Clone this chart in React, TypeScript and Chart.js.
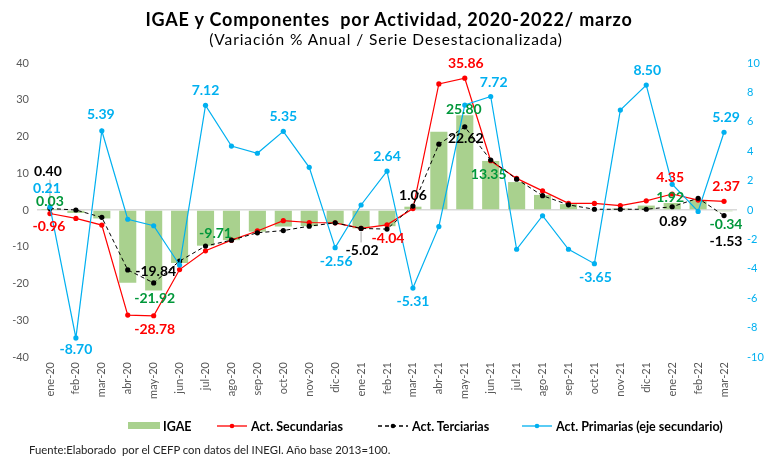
import React, { useEffect, useRef } from 'react';
import { Chart, registerables } from 'chart.js';

Chart.register(...registerables);

const categories = [
  'ene-20', 'feb-20', 'mar-20', 'abr-20', 'may-20', 'jun-20', 'jul-20', 'ago-20', 'sep-20',
  'oct-20', 'nov-20', 'dic-20', 'ene-21', 'feb-21', 'mar-21', 'abr-21', 'may-21', 'jun-21',
  'jul-21', 'ago-21', 'sep-21', 'oct-21', 'nov-21', 'dic-21', 'ene-22', 'feb-22', 'mar-22',
];

const igae = [
  0.03, -0.8, -2.3, -19.8, -21.92, -14.4, -9.71, -8.2, -5.9,
  -4.5, -4.4, -3.8, -5.0, -4.4, 0.9, 21.3, 25.8, 13.35,
  7.6, 4.1, 1.6, 0.2, 0.4, 1.2, 1.92, 2.7, -0.34,
];

const secundarias = [
  -0.96, -2.3, -4.1, -28.6, -28.78, -16.2, -11.1, -8.2, -5.7,
  -2.9, -3.4, -3.5, -5.0, -4.04, 0.4, 34.3, 35.86, 13.4,
  8.6, 5.2, 1.8, 1.8, 1.2, 2.5, 4.35, 2.7, 2.37,
];

const terciarias = [
  0.4, 0.0, -2.0, -16.3, -19.84, -13.9, -9.8, -8.2, -6.2,
  -5.6, -4.4, -3.5, -5.02, -5.2, 1.06, 17.9, 22.62, 13.6,
  8.4, 3.9, 1.4, 0.2, 0.2, 0.2, 0.89, 3.2, -1.53,
];

const primarias = [
  0.21, -8.7, 5.39, -0.63, -1.07, -3.74, 7.12, 4.35, 3.86,
  5.35, 2.9, -2.56, 0.34, 2.64, -5.31, -1.13, 7.14, 7.72,
  -2.67, -0.39, -2.67, -3.65, 6.8, 8.5, 1.75, -0.1, 5.29,
];

const seriesNames = ['IGAE', 'Act. Secundarias', 'Act. Terciarias', 'Act. Primarias (eje secundario)'];
const seriesColors = ['#A9D18E', '#FF0000', '#000000', '#00B0F0'];
const labelColors = ['#00973A', '#FF0000', '#000000', '#00B0F0'];

// data-label annotations: dataset index, category index, offset from the mark
const dataLabels = [
  { ds: 2, i: 0, dx: -2, dy: -37, leader: true },
  { ds: 3, i: 0, dx: -3, dy: -18 },
  { ds: 0, i: 0, dx: 0, dy: -8 },
  { ds: 1, i: 0, dx: -1, dy: 13 },
  { ds: 3, i: 1, dx: 0, dy: 12 },
  { ds: 3, i: 2, dx: -1, dy: -16 },
  { ds: 2, i: 4, dx: 2, dy: -11 },
  { ds: 0, i: 4, dx: 1, dy: 8 },
  { ds: 1, i: 4, dx: 1, dy: 14 },
  { ds: 3, i: 6, dx: 0, dy: -15 },
  { ds: 0, i: 6, dx: 10, dy: -12 },
  { ds: 3, i: 9, dx: 0, dy: -15 },
  { ds: 3, i: 11, dx: 1, dy: 14 },
  { ds: 2, i: 12, dx: 1, dy: 22, leader: true },
  { ds: 1, i: 13, dx: 1, dy: 14 },
  { ds: 3, i: 13, dx: 0, dy: -15 },
  { ds: 2, i: 14, dx: 0, dy: -11 },
  { ds: 3, i: 14, dx: 0, dy: 13 },
  { ds: 1, i: 16, dx: 1, dy: -15 },
  { ds: 0, i: 16, dx: -1, dy: -6 },
  { ds: 2, i: 16, dx: 1, dy: 12 },
  { ds: 3, i: 17, dx: 3, dy: -14 },
  { ds: 0, i: 17, dx: -2, dy: 14 },
  { ds: 3, i: 21, dx: 1, dy: 14 },
  { ds: 3, i: 23, dx: 1, dy: -15 },
  { ds: 1, i: 24, dx: -2, dy: -17 },
  { ds: 0, i: 24, dx: -2, dy: -5 },
  { ds: 2, i: 24, dx: 1, dy: 15 },
  { ds: 1, i: 26, dx: 2, dy: -15 },
  { ds: 3, i: 26, dx: 2, dy: -15 },
  { ds: 0, i: 26, dx: 2, dy: 13 },
  { ds: 2, i: 26, dx: 2, dy: 26 },
];

const FONT = 'Lato, "Noto Sans", sans-serif';

const labelPlugin = {
  id: 'valueLabels',
  afterDatasetsDraw(chart: any) {
    const ctx = chart.ctx;
    ctx.save();
    ctx.font = `bold 14px ${FONT}`;
    ctx.textAlign = 'center';
    ctx.textBaseline = 'middle';
    for (const l of dataLabels) {
      const meta = chart.getDatasetMeta(l.ds);
      const el = meta.data[l.i];
      if (!el) continue;
      const v = chart.data.datasets[l.ds].data[l.i] as number;
      const x = el.x + l.dx;
      const y = el.y + l.dy;
      if (l.leader) {
        ctx.strokeStyle = '#A6A6A6';
        ctx.lineWidth = 1;
        ctx.beginPath();
        const dir = l.dy < 0 ? -1 : 1;
        ctx.moveTo(el.x, el.y + dir * 3);
        ctx.lineTo(el.x, y - dir * 8);
        ctx.stroke();
      }
      ctx.fillStyle = labelColors[l.ds];
      ctx.fillText(v.toFixed(2), x, y);
    }
    ctx.restore();
  },
};

function LegendMark({ kind }: { kind: number }) {
  if (kind === 0) {
    return <svg width="32" height="10"><rect x="0" y="1" width="32" height="7" fill={seriesColors[0]} /></svg>;
  }
  const c = seriesColors[kind];
  return (
    <svg width="32" height="10">
      <line x1="1" y1="5" x2="31" y2="5" stroke={c} strokeWidth="1.3" strokeDasharray={kind === 2 ? '4 3' : undefined} />
      <circle cx="16" cy="5" r="2.3" fill={c} />
    </svg>
  );
}

export default function App() {
  const ref = useRef<HTMLCanvasElement>(null);

  useEffect(() => {
    if (!ref.current) return;
    const tickFont = { family: FONT, size: 11 };
    const chart = new Chart(ref.current, {
      type: 'bar',
      data: {
        labels: categories,
        datasets: [
          {
            type: 'bar', label: seriesNames[0], data: igae, backgroundColor: seriesColors[0],
            yAxisID: 'y', order: 4, barPercentage: 0.66, categoryPercentage: 1,
          },
          {
            type: 'line', label: seriesNames[1], data: secundarias, borderColor: seriesColors[1],
            backgroundColor: seriesColors[1], borderWidth: 1.2, pointRadius: 2.6, pointBorderWidth: 0,
            yAxisID: 'y', order: 3, tension: 0,
          },
          {
            type: 'line', label: seriesNames[2], data: terciarias, borderColor: seriesColors[2],
            backgroundColor: seriesColors[2], borderWidth: 1, borderDash: [4, 3], pointRadius: 2.6,
            pointBorderWidth: 0, yAxisID: 'y', order: 2, tension: 0,
          },
          {
            type: 'line', label: seriesNames[3], data: primarias, borderColor: seriesColors[3],
            backgroundColor: seriesColors[3], borderWidth: 1.2, pointRadius: 2.6, pointBorderWidth: 0,
            yAxisID: 'y2', order: 1, tension: 0,
          },
        ] as any,
      },
      options: {
        animation: false,
        responsive: false,
        maintainAspectRatio: false,
        layout: { padding: { top: 63, bottom: 51, left: 0, right: 0 } },
        plugins: { legend: { display: false }, tooltip: { enabled: false }, title: { display: false } },
        scales: {
          x: {
            offset: true,
            grid: { display: false, drawTicks: false },
            border: { display: false },
            ticks: { color: '#595959', font: tickFont, minRotation: 90, maxRotation: 90, autoSkip: false, padding: 5 },
            afterFit: (s: any) => { s.height = 50; },
          },
          y: {
            position: 'left', min: -40, max: 40,
            ticks: { stepSize: 10, color: '#595959', font: tickFont, padding: 8 },
            grid: {
              drawTicks: false,
              color: (c: any) => (c.tick && c.tick.value === 0 ? '#D9D9D9' : 'rgba(0,0,0,0)'),
              lineWidth: 1.5,
            },
            border: { display: false },
            afterFit: (s: any) => { s.width = 37; },
          },
          y2: {
            position: 'right', min: -10, max: 10,
            ticks: { stepSize: 2, color: '#00B0F0', font: tickFont, padding: 10 },
            grid: { display: false, drawTicks: false },
            border: { display: false },
            afterFit: (s: any) => { s.width = 31; },
          },
        } as any,
      },
      plugins: [labelPlugin],
    });
    return () => chart.destroy();
  }, []);

  const legendItems = [
    { k: 0, left: 128 },
    { k: 1, left: 216 },
    { k: 2, left: 377 },
    { k: 3, left: 521 },
  ];

  return (
    <div style={{ position: 'absolute', left: 0, top: 0, width: 768, height: 458, background: '#fff', fontFamily: FONT, overflow: 'hidden' }}>
      <canvas ref={ref} width={768} height={458} style={{ position: 'absolute', left: 0, top: 0, display: 'block' }} />
      <div style={{ position: 'absolute', left: 5, width: 768, top: 8, textAlign: 'center', fontWeight: 700, fontSize: 18, letterSpacing: 0.8, color: '#000', whiteSpace: 'pre' }}>
        {'IGAE y Componentes  por Actividad, 2020-2022/ marzo'}
      </div>
      <div style={{ position: 'absolute', left: 2, width: 768, top: 30, textAlign: 'center', fontSize: 15.5, letterSpacing: 0.9, color: '#000', whiteSpace: 'pre' }}>
        {'(Variación % Anual / Serie Desestacionalizada)'}
      </div>
      {legendItems.map((it) => (
        <div key={it.k} style={{ position: 'absolute', left: it.left, top: 417, height: 18, display: 'flex', alignItems: 'center', gap: 3, fontWeight: 700, fontSize: 12.5, color: '#000', whiteSpace: 'nowrap' }}>
          <LegendMark kind={it.k} />
          <span>{seriesNames[it.k]}</span>
        </div>
      ))}
      <div style={{ position: 'absolute', left: 29, top: 443, fontSize: 11.3, color: '#222', whiteSpace: 'pre' }}>
        {'Fuente:Elaborado  por el CEFP con datos del INEGI. Año base 2013=100.'}
      </div>
    </div>
  );
}
